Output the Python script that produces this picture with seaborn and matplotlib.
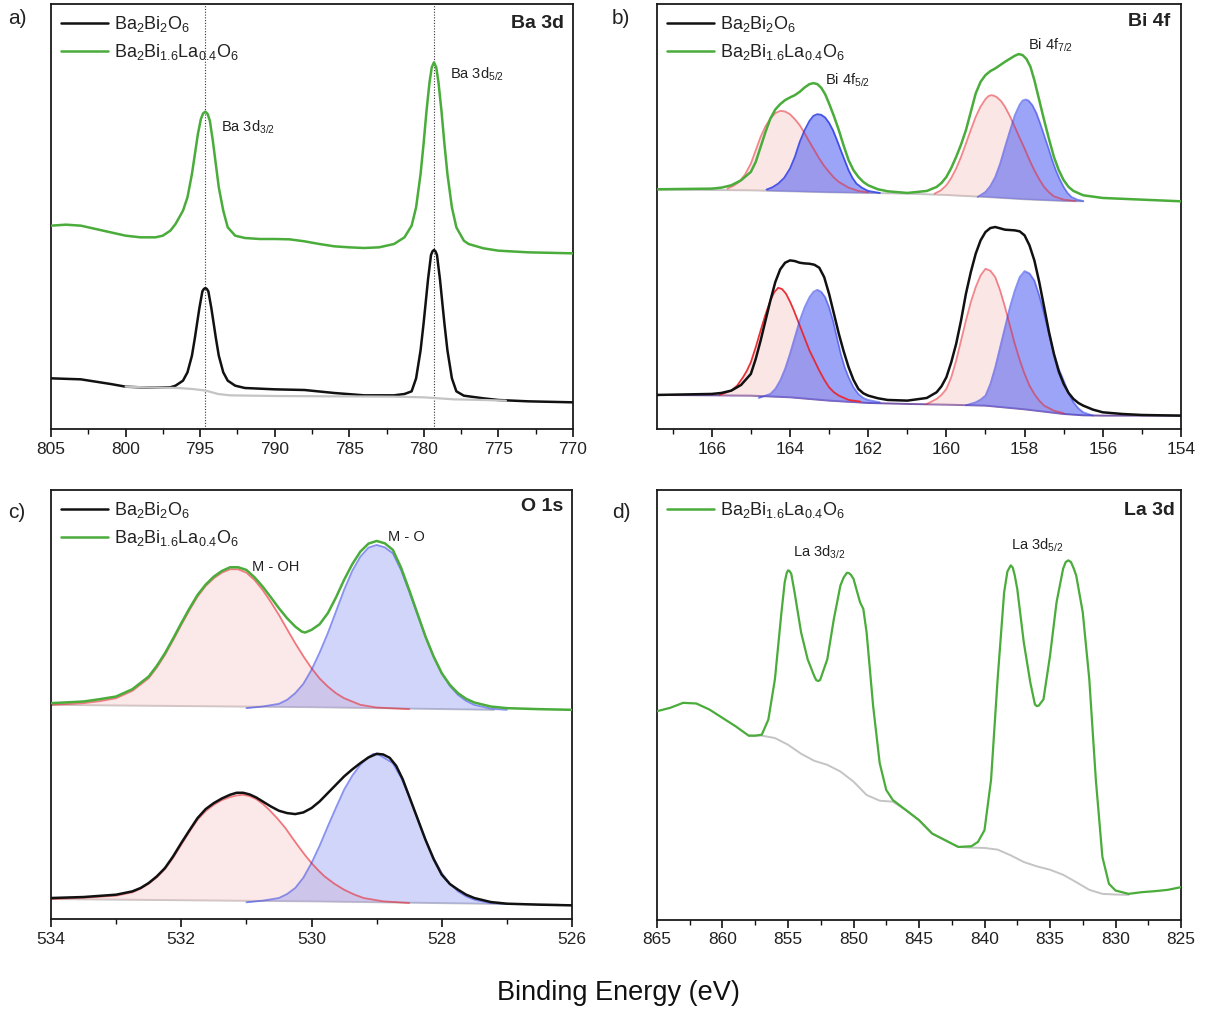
import numpy as np
import pandas as pd
import matplotlib
matplotlib.use("Agg")
import matplotlib.pyplot as plt
from matplotlib.lines import Line2D
from matplotlib.ticker import MultipleLocator
import seaborn as sns

# ---------------- data (arbitrary intensity units) ----------------
# Panel a: Ba 3d
a_black_x = [805.0, 803.0, 801.0, 800.0, 799.0, 798.0, 797.0, 796.65, 796.15, 795.85, 795.55, 795.35, 795.25,
             795.05, 794.85, 794.75, 794.65, 794.55, 794.45, 794.25, 794.05, 793.95, 793.75, 793.45, 793.15,
             792.65, 792.0, 790.0, 788.0, 786.0, 784.0, 782.0, 781.3, 780.82, 780.52, 780.22, 780.02, 779.92,
             779.72, 779.52, 779.42, 779.32, 779.22, 779.12, 778.92, 778.72, 778.62, 778.42, 778.12, 777.82,
             777.32, 776.0, 775.0, 773.0, 770.0]
a_black_y = [152, 149, 135, 127, 125, 124, 125, 130, 145, 170, 220, 274, 304,
             363, 413, 420, 423, 420, 413, 363, 304, 274, 220, 170, 145,
             130, 123, 119, 117, 108, 101, 101, 105, 113, 152, 236, 316, 360,
             449, 522, 533, 537, 533, 522, 449, 360, 316, 236, 152, 113,
             100, 92, 87, 83, 80]
a_green_x = [805.0, 804.0, 803.0, 802.0, 801.0, 800.0, 799.0, 798.0, 797.5, 797.0, 796.65, 796.15, 795.85,
             795.55, 795.35, 795.15, 794.95, 794.8, 794.65, 794.5, 794.35, 794.15, 793.95, 793.75, 793.45,
             793.15, 792.65, 792.0, 791.0, 790.0, 789.0, 788.0, 787.0, 786.0, 785.0, 784.0, 783.0, 782.0,
             781.3, 780.82, 780.52, 780.22, 780.02, 779.82, 779.62, 779.47, 779.32, 779.17, 779.02, 778.82,
             778.62, 778.42, 778.12, 777.82, 777.32, 777.0, 776.0, 775.0, 773.0, 770.0]
a_green_y = [610, 613, 610, 600, 590, 580, 575, 575, 580, 595, 615, 655, 695,
             765, 825, 885, 930, 947, 952, 945, 925, 865, 795, 725, 655,
             605, 580, 573, 570, 570, 569, 563, 555, 548, 545, 543, 545, 555,
             575, 610, 665, 765, 855, 955, 1040, 1085, 1100, 1085, 1040, 955,
             855, 765, 665, 605, 565, 555, 542, 535, 530, 527]
a_bg_x = [800.0, 798.0, 796.5, 795.5, 794.6, 793.8, 793.0, 790.0, 786.0, 782.0, 780.0, 779.0, 778.0, 776.0, 774.5]
a_bg_y = [127, 124, 123, 120, 115, 105, 101, 99, 98, 97, 95, 92, 89, 87, 85]
a_peak_positions = [794.65, 779.32]

# Panel b: Bi 4f  (upper: La-doped sample, lower: undoped)
b_green_x = [167.4, 166.0, 165.75, 165.5, 165.25, 165.0, 164.875, 164.75, 164.625, 164.5, 164.375, 164.25,
             164.125, 164.0, 163.875, 163.75, 163.625, 163.5, 163.4, 163.3, 163.2, 163.1, 163.0, 162.875,
             162.75, 162.625, 162.5, 162.375, 162.25, 162.125, 162.0, 161.75, 161.5, 161.0, 160.5, 160.25,
             160.125, 160.0, 159.875, 159.75, 159.625, 159.5, 159.375, 159.25, 159.125, 159.0, 158.875,
             158.75, 158.5, 158.25, 158.15, 158.05, 157.95, 157.85, 157.75, 157.625, 157.5, 157.375, 157.25,
             157.125, 157.0, 156.875, 156.75, 156.5, 156.0, 155.0, 154.0]
b_green_y = [718, 720, 723, 730, 745, 770, 800, 845, 890, 930, 957, 973,
             985, 993, 1000, 1010, 1023, 1033, 1036, 1033, 1022, 1003, 975, 937,
             895, 848, 805, 775, 755, 740, 730, 718, 712, 707, 713, 725,
             737, 755, 782, 815, 852, 895, 950, 1005, 1040, 1060, 1072,
             1080, 1100, 1118, 1123, 1120, 1108, 1085, 1045, 985, 925, 868, 815,
             775, 745, 725, 713, 700, 692, 687, 682]
b_gbg_x = [167.4, 165.0, 163.0, 161.0, 160.0, 159.0, 158.0, 157.0, 156.5]
b_gbg_y = [717, 715, 709, 705, 701, 695, 688, 683, 682]
b_gred5_x = [165.6, 165.45, 165.3, 165.15, 165.0, 164.875, 164.75, 164.625, 164.5, 164.375, 164.25, 164.125,
             164.0, 163.875, 163.75, 163.625, 163.5, 163.375, 163.25, 163.125, 163.0, 162.875, 162.75, 162.5,
             162.25, 162.0]
b_gred5_y = [720, 728, 740, 762, 795, 835, 875, 907, 930, 946, 953, 951,
             943, 928, 910, 886, 860, 835, 810, 788, 770, 753, 740, 723,
             713, 709]
b_gblue5_x = [164.6, 164.45, 164.3, 164.15, 164.0, 163.875, 163.75, 163.625, 163.5, 163.4, 163.3, 163.2, 163.1,
              163.0, 162.9, 162.8, 162.7, 162.6, 162.5, 162.4, 162.3, 162.15, 162.0, 161.7]
b_gblue5_y = [717, 724, 735, 752, 780, 815, 860, 895, 923, 938, 943, 941, 933,
              917, 895, 866, 835, 805, 775, 752, 735, 722, 713, 707]
b_gred7_x = [160.3, 160.15, 160.0, 159.875, 159.75, 159.625, 159.5, 159.375, 159.25, 159.125, 159.0, 158.925,
             158.85, 158.775, 158.7, 158.6, 158.5, 158.375, 158.25, 158.125, 158.0, 157.875, 157.75, 157.625,
             157.5, 157.375, 157.25, 157.0, 156.7]
b_gred7_y = [705, 714, 730, 752, 780, 815, 855, 896, 935, 966, 988, 997,
             1000, 998, 993, 982, 965, 937, 905, 872, 840, 806, 775, 748,
             725, 709, 697, 687, 683]
b_gblue7_x = [159.2, 159.0, 158.875, 158.75, 158.625, 158.5, 158.375, 158.25, 158.125, 158.05, 157.97, 157.9,
              157.8, 157.7, 157.6, 157.5, 157.4, 157.3, 157.2, 157.1, 157.0, 156.9, 156.8, 156.65, 156.5]
b_gblue7_y = [695, 710, 728, 755, 795, 845, 893, 940, 972, 984, 987, 984,
              970, 947, 915, 880, 845, 808, 775, 748, 725, 707, 695, 687, 683]

b_black_x = [167.4, 166.0, 165.75, 165.5, 165.25, 165.0, 164.875, 164.75, 164.625, 164.5, 164.375, 164.25,
             164.125, 164.0, 163.875, 163.75, 163.625, 163.5, 163.375, 163.25, 163.125, 163.0, 162.875,
             162.75, 162.625, 162.5, 162.375, 162.25, 162.125, 162.0, 161.75, 161.5, 161.0, 160.5, 160.25,
             160.125, 160.0, 159.875, 159.75, 159.625, 159.5, 159.375, 159.25, 159.125, 159.0, 158.875,
             158.75, 158.625, 158.5, 158.375, 158.25, 158.125, 158.0, 157.875, 157.75, 157.625, 157.5,
             157.375, 157.25, 157.125, 157.0, 156.875, 156.75, 156.625, 156.5, 156.25, 156.0, 155.5, 155.0,
             154.0]
b_black_y = [102, 105, 108, 115, 132, 165, 210, 265, 325, 385, 440, 478,
             498, 505, 503, 498, 496, 495, 492, 483, 455, 405, 345,
             285, 232, 185, 147, 120, 107, 100, 92, 87, 85, 93, 110,
             128, 155, 200, 255, 325, 405, 470, 525, 565, 590, 602,
             605, 601, 597, 596, 595, 592, 580, 550, 505, 440, 365,
             290, 225, 172, 135, 108, 90, 78, 70, 58, 50, 45, 42,
             40]
b_kbg_x = [167.4, 165.0, 164.0, 163.0, 162.0, 161.0, 160.0, 159.0, 158.0, 157.0, 156.5, 156.0, 154.0]
b_kbg_y = [102, 100, 95, 85, 78, 75, 73, 70, 59, 45, 41, 40, 40]
b_kred5_x = [165.8, 165.5, 165.35, 165.2, 165.1, 165.0, 164.875, 164.75, 164.625, 164.5, 164.4, 164.3, 164.2,
             164.1, 164.0, 163.9, 163.8, 163.7, 163.6, 163.5, 163.375, 163.25, 163.125, 163.0, 162.875, 162.75,
             162.5, 162.2]
b_kred5_y = [102, 115, 130, 155, 175, 200, 245, 295, 343, 385, 410, 423, 419,
             405, 382, 355, 325, 295, 265, 235, 205, 175, 148, 125, 110, 100,
             87, 82]
b_kblue5_x = [164.8, 164.5, 164.375, 164.25, 164.125, 164.0, 163.875, 163.75, 163.625, 163.5, 163.4, 163.3,
              163.2, 163.1, 163.0, 162.9, 162.8, 162.7, 162.6, 162.5, 162.375, 162.25, 162.125, 162.0, 161.7]
b_kblue5_y = [93, 105, 120, 145, 180, 225, 275, 325, 365, 395, 411, 417,
              411, 395, 365, 325, 275, 225, 185, 155, 125, 105, 93, 87, 80]
b_kred7_x = [160.5, 160.25, 160.125, 160.0, 159.875, 159.75, 159.625, 159.5, 159.375, 159.25, 159.125, 159.0,
             158.875, 158.75, 158.625, 158.5, 158.375, 158.25, 158.125, 158.0, 157.875, 157.75, 157.625, 157.5,
             157.25, 157.0]
b_kred7_y = [75, 90, 102, 120, 155, 205, 265, 325, 380, 425, 460, 480,
             474, 455, 415, 365, 310, 255, 207, 165, 130, 105, 85, 70,
             55, 47]
b_kblue7_x = [159.5, 159.25, 159.125, 159.0, 158.875, 158.75, 158.625, 158.5, 158.375, 158.25, 158.125, 158.0,
              157.875, 157.75, 157.625, 157.5, 157.375, 157.25, 157.125, 157.0, 156.875, 156.75, 156.625, 156.5,
              156.25]
b_kblue7_y = [71, 80, 88, 100, 135, 185, 245, 305, 365, 415, 455, 473,
              466, 445, 400, 345, 285, 225, 180, 145, 108, 80, 62, 50,
              40]

# Panel c: O 1s
c_green_x = [534.0, 533.5, 533.25, 533.0, 532.75, 532.5, 532.375, 532.25, 532.125, 532.0, 531.875, 531.75,
             531.625, 531.5, 531.375, 531.25, 531.125, 531.0, 530.875, 530.75, 530.625, 530.5, 530.375, 530.25,
             530.15, 530.1, 530.0, 529.875, 529.75, 529.625, 529.5, 529.375, 529.25, 529.125, 529.0, 528.875,
             528.75, 528.625, 528.5, 528.375, 528.25, 528.125, 528.0, 527.875, 527.75, 527.625, 527.5, 527.25,
             527.0, 526.5, 526.0]
c_green_y = [648, 653, 660, 668, 690, 728, 760, 798, 842, 888, 932, 973,
             1004, 1028, 1045, 1056, 1056, 1048, 1026, 998, 966, 933, 903, 878,
             863, 860, 868, 885, 918, 965, 1018, 1065, 1103, 1127, 1135, 1128,
             1108, 1055, 988, 918, 848, 788, 738, 703, 678, 661, 650, 638,
             633, 630, 628]
c_gbg_x = [534.0, 530.0, 527.2]
c_gbg_y = [643, 636, 628]
c_gred_x = [534.0, 533.5, 533.25, 533.0, 532.75, 532.5, 532.375, 532.25, 532.125, 532.0, 531.875, 531.75,
            531.625, 531.5, 531.375, 531.25, 531.125, 531.0, 530.875, 530.75, 530.625, 530.5, 530.375, 530.25,
            530.125, 530.0, 529.875, 529.75, 529.625, 529.5, 529.25, 529.0, 528.5]
c_gred_y = [643, 648, 654, 663, 685, 723, 755, 793, 837, 883, 927, 968,
            1000, 1023, 1040, 1050, 1050, 1040, 1018, 988, 952, 913, 870, 828,
            789, 753, 722, 698, 678, 663, 643, 635, 630]
c_gblue_x = [531.0, 530.75, 530.5, 530.375, 530.25, 530.125, 530.0, 529.875, 529.75, 529.625, 529.5, 529.375,
             529.25, 529.125, 529.0, 528.875, 528.75, 528.625, 528.5, 528.375, 528.25, 528.125, 528.0, 527.875,
             527.75, 527.625, 527.5, 527.25, 527.0]
c_gblue_y = [633, 638, 646, 658, 678, 706, 748, 800, 858, 923, 988, 1045,
             1088, 1115, 1123, 1116, 1098, 1048, 983, 915, 848, 788, 738, 700,
             673, 655, 643, 632, 628]

c_black_x = [534.0, 533.5, 533.0, 532.75, 532.625, 532.5, 532.375, 532.25, 532.125, 532.0, 531.875, 531.75,
             531.625, 531.5, 531.375, 531.25, 531.15, 531.05, 530.95, 530.85, 530.75, 530.625, 530.5, 530.375,
             530.25, 530.125, 530.0, 529.875, 529.75, 529.625, 529.5, 529.375, 529.25, 529.125, 529.0, 528.9,
             528.8, 528.7, 528.6, 528.5, 528.375, 528.25, 528.125, 528.0, 527.875, 527.75, 527.625, 527.5,
             527.25, 527.0, 526.5, 526.0]
c_black_y = [63, 66, 73, 83, 93, 108, 128, 153, 188, 228, 266, 303,
             330, 348, 362, 373, 379, 379, 374, 365, 353, 338, 325, 318,
             315, 320, 333, 353, 378, 403, 428, 449, 468, 485, 496, 494,
             484, 460, 420, 368, 303, 238, 180, 133, 105, 88, 73, 63,
             51, 46, 43, 41]
c_kbg_x = [534.0, 530.0, 527.0, 526.2]
c_kbg_y = [60, 53, 45, 43]
c_kred_x = [534.0, 533.5, 533.0, 532.75, 532.625, 532.5, 532.375, 532.25, 532.125, 532.0, 531.875, 531.75,
            531.625, 531.5, 531.375, 531.25, 531.15, 531.05, 530.95, 530.85, 530.75, 530.65, 530.525, 530.4,
            530.3, 530.2, 530.1, 530.0, 529.9, 529.8, 529.65, 529.5, 529.35, 529.2, 528.9, 528.5]
c_kred_y = [60, 64, 70, 80, 91, 106, 125, 150, 184, 223, 262, 298,
            324, 343, 357, 366, 371, 373, 369, 360, 346, 328, 302, 273,
            245, 218, 192, 168, 147, 128, 106, 88, 74, 63, 53, 48]
c_kblue_x = [531.0, 530.75, 530.5, 530.375, 530.25, 530.125, 530.0, 529.875, 529.75, 529.625, 529.5, 529.375,
             529.25, 529.15, 529.05, 528.95, 528.85, 528.75, 528.625, 528.5, 528.375, 528.25, 528.125, 528.0,
             527.875, 527.75, 527.625, 527.5, 527.25, 527.0]
c_kblue_y = [50, 55, 63, 75, 93, 124, 168, 220, 278, 334, 388, 430,
             463, 483, 496, 492, 480, 468, 425, 368, 303, 238, 183, 138,
             106, 83, 68, 58, 48, 45]

# Panel d: La 3d
d_green_x = [865.0, 864.0, 863.0, 862.0, 861.0, 860.0, 859.0, 858.0, 857.5, 857.0, 856.5, 856.0, 855.5,
             855.25, 855.1, 855.0, 854.9, 854.75, 854.5, 854.0, 853.5, 853.0, 852.85, 852.7, 852.55, 852.0,
             851.5, 851.0, 850.75, 850.5, 850.35, 850.2, 850.0, 849.5, 849.25, 849.0, 848.5, 848.0, 847.5,
             847.0, 846.0, 845.0, 844.0, 843.0, 842.0, 841.0, 840.5, 840.0, 839.5, 839.0, 838.5, 838.25,
             838.0, 837.85, 837.7, 837.5, 837.0, 836.5, 836.15, 836.0, 835.85, 835.7, 835.5, 835.0, 834.5,
             834.0, 833.8, 833.6, 833.4, 833.2, 833.0, 832.5, 832.0, 831.5, 831.0, 830.5, 830.0, 829.0,
             828.0, 827.0, 826.0, 825.0]
d_green_y = [623, 633, 648, 646, 628, 603, 578, 550, 550, 553, 598, 718, 918,
             1008, 1035, 1043, 1042, 1033, 978, 858, 778, 728, 716, 713, 716, 778,
             898, 998, 1022, 1036, 1035, 1030, 1018, 948, 928, 858, 638, 468, 388,
             358, 328, 298, 258, 238, 218, 220, 233, 268, 418, 718, 978, 1040,
             1058, 1052, 1030, 988, 828, 708, 643, 638, 640, 648, 658, 788, 948,
             1048, 1068, 1073, 1068, 1050, 1028, 918, 718, 418, 188, 108, 88, 78,
             83, 86, 90, 98]
d_bg_x = [858.0, 857.0, 856.0, 855.0, 854.0, 853.0, 852.0, 851.0, 850.0, 849.0, 848.0, 847.0, 846.0, 845.0,
          844.0, 843.0, 842.0, 841.0, 840.0, 839.0, 838.0, 837.0, 836.0, 835.0, 834.0, 833.0, 832.0, 831.0,
          830.0, 829.0]
d_bg_y = [550, 550, 543, 523, 496, 475, 463, 443, 413, 373, 356, 353, 328, 298,
          258, 238, 218, 216, 215, 210, 193, 173, 160, 150, 135, 113, 90, 78, 76, 75]

series_names = ["Ba$_2$Bi$_2$O$_6$", "Ba$_2$Bi$_{1.6}$La$_{0.4}$O$_6$"]

# ---------------- style ----------------
sns.set_style("ticks")
plt.rcParams["font.family"] = ["Liberation Sans", "DejaVu Sans"]
plt.rcParams["mathtext.fontset"] = "custom"
plt.rcParams["mathtext.rm"] = "Liberation Sans"
plt.rcParams["mathtext.it"] = "Liberation Sans:italic"
plt.rcParams["mathtext.bf"] = "Liberation Sans:bold"
plt.rcParams["mathtext.default"] = "regular"
plt.rcParams["lines.solid_joinstyle"] = "round"
plt.rcParams["lines.solid_capstyle"] = "round"

GREEN = "#4aac3a"
BLACK = "#111111"
GREY = "#c4c4c4"
RED = "#e8262e"
BLUE = "#2b3be6"
TXT = "#222222"

fig = plt.figure(figsize=(12.05, 10.16), dpi=100)
W, H = 1205.0, 1016.0


def add_ax(l, r, t, b):
    return fig.add_axes([l / W, 1 - b / H, (r - l) / W, (b - t) / H])


ax_a = add_ax(51, 573, 4, 429)
ax_b = add_ax(657, 1181, 4, 429)
ax_c = add_ax(51, 572, 490, 919)
ax_d = add_ax(657, 1181, 490, 920)


def line(ax, x, y, color, lw=1.6, alpha=1.0, z=3):
    sns.lineplot(x=x, y=y, ax=ax, color=color, linewidth=lw, alpha=alpha, zorder=z,
                 estimator=None, sort=False, legend=False)


def comp(ax, x, y, bgx, bgy, color, fill, falpha, lalpha, z=2, lw=1.3):
    xb = np.interp(np.array(x)[::-1], np.array(bgx)[::-1], np.array(bgy)[::-1])[::-1]
    ax.fill_between(x, xb, y, color=fill, alpha=falpha, linewidth=0, zorder=z)
    line(ax, x, y, color, lw=lw, alpha=lalpha, z=z + 0.1)


def style_ax(ax, xlim, major, minor, ylim):
    ax.set_xlim(*xlim)
    ax.set_ylim(*ylim)
    ax.set_yticks([])
    ax.xaxis.set_major_locator(MultipleLocator(major))
    ax.xaxis.set_minor_locator(MultipleLocator(minor))
    ax.tick_params(axis="x", which="major", direction="out", length=6, width=1.2, labelsize=12.5,
                   colors=BLACK, labelcolor=TXT, pad=3)
    ax.tick_params(axis="x", which="minor", direction="out", length=3.5, width=1.0, colors=BLACK)
    for s in ax.spines.values():
        s.set_visible(True)
        s.set_linewidth(1.3)
        s.set_color("#1a1a1a")
    ax.set_xlabel("")
    ax.set_ylabel("")


def legend(ax, colors, labels):
    handles = [Line2D([0], [0], color=c, lw=1.8) for c in colors]
    ax.legend(handles, labels, loc="upper left", frameon=False, fontsize=13, handlelength=2.6,
              handletextpad=0.35, labelspacing=0.45, borderaxespad=0.25, borderpad=0.3,
              labelcolor=TXT)


# ---- panel a ----
line(ax_a, a_black_x, a_black_y, BLACK, lw=1.8)
line(ax_a, a_bg_x, a_bg_y, GREY, lw=1.6, z=4)
line(ax_a, a_green_x, a_green_y, GREEN, lw=1.8)
for p in a_peak_positions:
    ax_a.axvline(p, color="#333333", lw=0.8, ls=(0, (1, 1.5)), zorder=1)
style_ax(ax_a, (805, 770), 5, 2.5, (0, 1275))
ax_a.text(793.6, 905, "Ba 3d$_{3/2}$", fontsize=10.5, color=TXT, va="center", ha="left")
ax_a.text(778.25, 1063, "Ba 3d$_{5/2}$", fontsize=10.5, color=TXT, va="center", ha="left")
ax_a.text(770.6, 1215, "Ba 3d", fontsize=14, fontweight="bold", color=TXT, va="center", ha="right")
legend(ax_a, [BLACK, GREEN], series_names)

# ---- panel b ----
line(ax_b, b_gbg_x, b_gbg_y, GREY, lw=1.4, z=1.5)
comp(ax_b, b_gred5_x, b_gred5_y, b_gbg_x, b_gbg_y, RED, "#f6b8b8", 0.35, 0.55)
comp(ax_b, b_gblue5_x, b_gblue5_y, b_gbg_x, b_gbg_y, BLUE, "#4a5af0", 0.55, 0.85)
comp(ax_b, b_gred7_x, b_gred7_y, b_gbg_x, b_gbg_y, RED, "#f6b8b8", 0.35, 0.55)
comp(ax_b, b_gblue7_x, b_gblue7_y, b_gbg_x, b_gbg_y, BLUE, "#4a5af0", 0.55, 0.55)
line(ax_b, b_green_x, b_green_y, GREEN, lw=1.8, z=5)
line(ax_b, b_kbg_x, b_kbg_y, "#7a5aa8", lw=1.4, z=1.5)
comp(ax_b, b_kred5_x, b_kred5_y, b_kbg_x, b_kbg_y, RED, "#f6b8b8", 0.35, 0.95)
comp(ax_b, b_kblue5_x, b_kblue5_y, b_kbg_x, b_kbg_y, BLUE, "#4a5af0", 0.55, 0.55)
comp(ax_b, b_kred7_x, b_kred7_y, b_kbg_x, b_kbg_y, RED, "#f6b8b8", 0.35, 0.55)
comp(ax_b, b_kblue7_x, b_kblue7_y, b_kbg_x, b_kbg_y, BLUE, "#4a5af0", 0.55, 0.55)
line(ax_b, b_black_x, b_black_y, BLACK, lw=1.8, z=5)
style_ax(ax_b, (167.4, 154), 2, 1, (0, 1273))
ax_b.text(163.1, 1045, "Bi 4f$_{5/2}$", fontsize=10.5, color=TXT, va="center", ha="left")
ax_b.text(157.9, 1150, "Bi 4f$_{7/2}$", fontsize=10.5, color=TXT, va="center", ha="left")
ax_b.text(154.27, 1220, "Bi 4f", fontsize=14, fontweight="bold", color=TXT, va="center", ha="right")
legend(ax_b, [BLACK, GREEN], series_names)

# ---- panel c ----
line(ax_c, c_gbg_x, c_gbg_y, GREY, lw=1.4, z=1.5)
comp(ax_c, c_gred_x, c_gred_y, c_gbg_x, c_gbg_y, RED, "#f7c6c6", 0.4, 0.6)
comp(ax_c, c_gblue_x, c_gblue_y, c_gbg_x, c_gbg_y, BLUE, "#7c88f0", 0.35, 0.55)
line(ax_c, c_green_x, c_green_y, GREEN, lw=1.8, z=5)
line(ax_c, c_kbg_x, c_kbg_y, GREY, lw=1.4, z=1.5)
comp(ax_c, c_kred_x, c_kred_y, c_kbg_x, c_kbg_y, RED, "#f7c6c6", 0.4, 0.6)
comp(ax_c, c_kblue_x, c_kblue_y, c_kbg_x, c_kbg_y, BLUE, "#7c88f0", 0.35, 0.55)
line(ax_c, c_black_x, c_black_y, BLACK, lw=1.8, z=5)
style_ax(ax_c, (534, 526), 2, 1, (0, 1288))
ax_c.text(530.92, 1056, "M - OH", fontsize=10.5, color=TXT, va="center", ha="left")
ax_c.text(528.82, 1146, "M - O", fontsize=10.5, color=TXT, va="center", ha="left")
ax_c.text(526.14, 1238, "O 1s", fontsize=14, fontweight="bold", color=TXT, va="center", ha="right")
legend(ax_c, [BLACK, GREEN], series_names)

# ---- panel d ----
line(ax_d, d_bg_x, d_bg_y, GREY, lw=1.4, z=2)
line(ax_d, d_green_x, d_green_y, GREEN, lw=1.6, z=4)
style_ax(ax_d, (865, 825), 5, 2.5, (0, 1283))
ax_d.text(854.6, 1096, "La 3d$_{3/2}$", fontsize=10.5, color=TXT, va="center", ha="left")
ax_d.text(838.0, 1118, "La 3d$_{5/2}$", fontsize=10.5, color=TXT, va="center", ha="left")
ax_d.text(825.5, 1223, "La 3d", fontsize=14, fontweight="bold", color=TXT, va="center", ha="right")
legend(ax_d, [GREEN], [series_names[1]])

for lbl, (px, py) in zip(["a)", "b)", "c)", "d)"], [(8, 18), (612, 18), (8, 513), (612, 513)]):
    fig.text(px / W, 1 - py / H, lbl, fontsize=15, color=TXT, ha="left", va="center")
fig.text(618 / W, 1 - 993 / H, "Binding Energy (eV)", fontsize=19.5, color=BLACK, ha="center", va="center")

fig.savefig("out.png", dpi=100, facecolor="white")
